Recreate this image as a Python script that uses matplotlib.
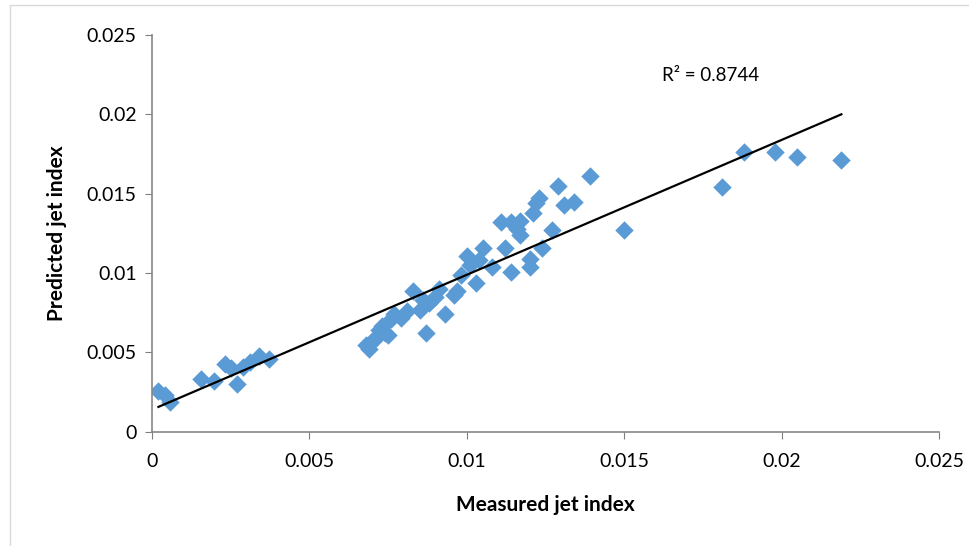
import matplotlib

matplotlib.use("Agg")

import matplotlib.pyplot as plt
import numpy as np

# values
measured = [
    0.0002, 0.0004, 0.00057, 0.00156, 0.00197, 0.0023, 0.0025, 0.0027, 0.0029, 0.0031,
    0.0034, 0.0037,
    0.0068, 0.0069, 0.0070, 0.0071, 0.0072, 0.0073, 0.0074, 0.0075, 0.0076, 0.0077,
    0.0079, 0.0081, 0.0083, 0.0085, 0.0086, 0.0087, 0.0088, 0.0090, 0.0091, 0.0093,
    0.0096, 0.0097, 0.0098, 0.0100, 0.0101, 0.0103, 0.0104, 0.0105, 0.0108, 0.0111,
    0.0112, 0.0114, 0.0114, 0.0116, 0.0117, 0.0117, 0.0120, 0.0120, 0.0121, 0.0122,
    0.0123, 0.0124, 0.0127, 0.0129, 0.0131, 0.0134, 0.0139,
    0.0150, 0.0181, 0.0188, 0.0198, 0.0205, 0.0219,
]
predicted = [
    0.0026, 0.0023, 0.0019, 0.0033, 0.0032, 0.0043, 0.0040, 0.0030, 0.0041, 0.0044,
    0.0048, 0.0046,
    0.0055, 0.0052, 0.0057, 0.0059, 0.0064, 0.0067, 0.0062, 0.0061, 0.0071, 0.0074,
    0.0072, 0.0076, 0.0089, 0.0077, 0.0083, 0.0062, 0.0081, 0.0085, 0.0090, 0.0074,
    0.0086, 0.0089, 0.0099, 0.0111, 0.0105, 0.0094, 0.0108, 0.0116, 0.0104, 0.0132,
    0.0116, 0.0101, 0.0132, 0.0128, 0.0124, 0.0133, 0.0109, 0.0104, 0.0138, 0.0144,
    0.0147, 0.0116, 0.0127, 0.0155, 0.0143, 0.0145, 0.0161,
    0.0127, 0.0154, 0.0176, 0.0176, 0.0173, 0.0171,
]
r2_label = "R² = 0.8744"
x_ticks = [0, 0.005, 0.01, 0.015, 0.02, 0.025]
x_tick_labels = ["0", "0.005", "0.01", "0.015", "0.02", "0.025"]
y_ticks = [0, 0.005, 0.01, 0.015, 0.02, 0.025]
y_tick_labels = ["0", "0.005", "0.01", "0.015", "0.02", "0.025"]

plt.rcParams["font.family"] = ["Lato", "DejaVu Sans"]

figure = plt.figure(figsize=(9.69, 5.46), dpi=100)
axis = figure.add_axes([0.157, 0.209, 0.812, 0.727])

# light frame around the chart area
figure.patches.append(
    plt.Rectangle((0.010, -0.05), 1.1, 1.04, transform=figure.transFigure,
                  fill=False, edgecolor="#d9d9d9", linewidth=1.0)
)

axis.scatter(measured, predicted, marker="D", s=88, color="#5b9bd5",
             linewidths=0, zorder=2)

slope, intercept = np.polyfit(measured, predicted, 1)
x_line = np.array([min(measured), max(measured)])
axis.plot(x_line, slope * x_line + intercept, color="black", linewidth=1.6, zorder=3)

axis.text(0.0162, 0.0221, r2_label, fontsize=13.5, color="black")

axis.set_xlim(0, 0.025)
axis.set_ylim(0, 0.025)
axis.set_xticks(x_ticks)
axis.set_xticklabels(x_tick_labels)
axis.set_yticks(y_ticks)
axis.set_yticklabels(y_tick_labels)
axis.tick_params(axis="both", direction="out", length=5, color="#7f7f7f",
                 labelsize=14, pad=6)
axis.tick_params(axis="x", pad=10)

for side in ("top", "right"):
    axis.spines[side].set_visible(False)
for side in ("left", "bottom"):
    axis.spines[side].set_color("#868686")
    axis.spines[side].set_linewidth(1.2)

axis.set_xlabel("Measured jet index", fontsize=15, fontweight="bold", labelpad=18)
axis.set_ylabel("Predicted jet index", fontsize=15, fontweight="bold", labelpad=14)

figure.savefig("out.png", dpi=100)
